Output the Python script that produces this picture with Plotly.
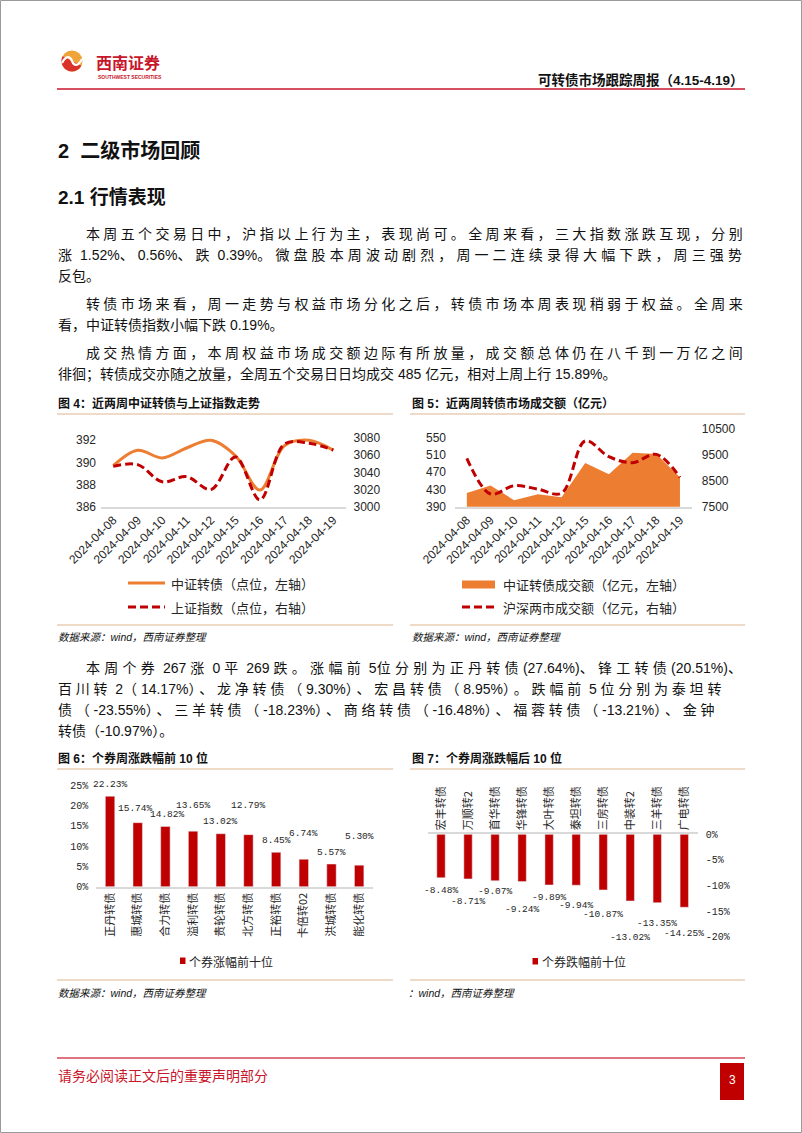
import math
import plotly.graph_objects as go

W, H = 802, 1133


def X(px):
    return px / W


def Y(py):
    return 1 - py / H


# ---------------- data ----------------
dates = ['2024-04-08', '2024-04-09', '2024-04-10', '2024-04-11', '2024-04-12',
         '2024-04-15', '2024-04-16', '2024-04-17', '2024-04-18', '2024-04-19']
cb_index = [389.7, 391.1, 390.4, 391.3, 392.0, 390.6, 387.5, 391.5, 392.0, 391.1]
sse_index = [3047, 3049, 3029, 3035, 3020, 3058, 3008, 3073, 3074, 3066]
cb_turnover = [422, 439, 405, 419, 412, 491, 465, 515, 512, 458]
mkt_turnover = [9370, 7990, 8310, 8180, 8020, 10040, 9430, 9200, 9520, 8630]

up_names = ['正丹转债', '惠城转债', '合力转债', '溢利转债', '贵轮转债',
            '北方转债', '正裕转债', '卡倍转02', '洪城转债', '能化转债']
up_pct = [22.23, 15.74, 14.82, 13.65, 13.02, 12.79, 8.45, 6.74, 5.57, 5.30]
down_names = ['宏丰转债', '万顺转2', '首华转债', '华锋转债', '大叶转债',
              '泰坦转债', '三房转债', '中装转2', '三羊转债', '广电转债']
down_pct = [-8.48, -8.71, -9.07, -9.24, -9.89, -9.94, -10.87, -13.02, -13.35, -14.25]

left4_ticks = [386, 388, 390, 392]
right4_ticks = [3000, 3020, 3040, 3060, 3080]
left5_ticks = [390, 430, 470, 510, 550]
right5_ticks = [7500, 8500, 9500, 10500]
pct6_ticks = [0, 5, 10, 15, 20, 25]
pct7_ticks = [0, -5, -10, -15, -20]

# label placement (styling only)
up_label_shift = [12, 14, 12, 26, 12, 29, 12, 26, 12, 29]
up_label_xshift = [0, -2, 2, 0, 0, 0, 0, 0, 0, 0]
down_label_shift = [-13, -23, -11, -28, -13, -20, -25, -37, -21, -26]

# ---------------- styles ----------------
CJK = "Noto Sans CJK SC"
LAT = "Liberation Sans, Noto Sans CJK SC"
MONO = "Liberation Mono, Noto Sans CJK SC"
RED = "#C00000"
ORANGE = "#ED7D31"
GRID = "#D9D9D9"
TXT = "#262626"
TAN = "#DDB68E"
HRED = "#C8162B"

fig = go.Figure()

# chart 4
fig.add_trace(go.Scatter(x=dates, y=cb_index, mode='lines', name='中证转债（点位，左轴）',
                         line=dict(color=ORANGE, width=3, shape='spline'),
                         xaxis='x', yaxis='y', showlegend=False, hoverinfo='skip'))
fig.add_trace(go.Scatter(x=dates, y=sse_index, mode='lines', name='上证指数（点位，右轴）',
                         line=dict(color=RED, width=3, dash='8px,4px', shape='spline'),
                         xaxis='x', yaxis='y2', showlegend=False, hoverinfo='skip'))
# chart 5
fig.add_trace(go.Scatter(x=dates, y=cb_turnover, mode='lines', name='中证转债成交额（亿元，左轴）',
                         fill='tozeroy', fillcolor=ORANGE, line=dict(color=ORANGE, width=0),
                         xaxis='x2', yaxis='y3', showlegend=False, hoverinfo='skip'))
fig.add_trace(go.Scatter(x=dates, y=mkt_turnover, mode='lines', name='沪深两市成交额（亿元，右轴）',
                         line=dict(color=RED, width=3, dash='8px,4px', shape='spline'),
                         xaxis='x2', yaxis='y4', showlegend=False, hoverinfo='skip'))
# chart 6
fig.add_trace(go.Bar(x=up_names, y=up_pct, marker_color=RED, width=0.34, name='个券涨幅前十位',
                     xaxis='x3', yaxis='y5', showlegend=False, hoverinfo='skip'))
# chart 7
fig.add_trace(go.Bar(x=down_names, y=down_pct, marker_color=RED, width=0.31, name='个券跌幅前十位',
                     xaxis='x4', yaxis='y6', showlegend=False, hoverinfo='skip'))

tickf = dict(family=LAT, size=12, color=TXT)
monof = dict(family=MONO, size=10, color=TXT)
labf = dict(family=MONO, size=9.5, color=TXT)
common_x = dict(type='category', showgrid=False, zeroline=False, ticks='', showline=True,
                linecolor=GRID, linewidth=1.5, fixedrange=True, automargin=False)
common_y = dict(showgrid=False, zeroline=False, ticks='', showline=False, fixedrange=True,
                automargin=False)

fig.update_layout(
    width=W, height=H, margin=dict(l=0, r=0, t=0, b=0), autosize=False,
    paper_bgcolor='white', plot_bgcolor='white', showlegend=False,
    font=dict(family=CJK, color=TXT),
    xaxis=dict(common_x, domain=[X(101), X(345.5)], anchor='y', range=[-0.5, 9.5],
               tickangle=-45, tickfont=tickf),
    yaxis=dict(common_y, domain=[Y(506.7), Y(438)], anchor='x', range=[386, 392.2],
               tickvals=left4_ticks, ticktext=[str(v) for v in left4_ticks],
               tickfont=tickf, ticklabelstandoff=4),
    yaxis2=dict(common_y, overlaying='y', side='right', anchor='x', range=[3000, 3080],
                tickvals=right4_ticks, ticktext=[str(v) for v in right4_ticks],
                tickfont=tickf, ticklabelstandoff=7),
    xaxis2=dict(common_x, domain=[X(455), X(691.8)], anchor='y3', range=[-0.5, 9.5],
                tickangle=-45, tickfont=tickf),
    yaxis3=dict(common_y, domain=[Y(506.7), Y(429)], anchor='x2', range=[390, 570],
                tickvals=left5_ticks, ticktext=[str(v) for v in left5_ticks],
                tickfont=tickf, ticklabelstandoff=8),
    yaxis4=dict(common_y, overlaying='y3', side='right', anchor='x2', range=[7500, 10500],
                tickvals=right5_ticks, ticktext=[str(v) for v in right5_ticks],
                tickfont=tickf, ticklabelstandoff=9),
    xaxis3=dict(common_x, domain=[X(96.2), X(373)], anchor='y5', range=[-0.5, 9.5],
                tickangle=-90, tickfont=dict(family=CJK, size=11, color=TXT)),
    yaxis5=dict(common_y, domain=[Y(886.7), Y(785)], anchor='x3', range=[0, 25],
                tickvals=pct6_ticks, ticktext=[f"{v}%" for v in pct6_ticks],
                tickfont=monof, ticklabelstandoff=7),
    xaxis4=dict(common_x, domain=[X(427.5), X(697.8)], anchor='y6', range=[-0.5, 9.5],
                side='top', tickangle=-90, tickfont=dict(family=CJK, size=11, color=TXT)),
    yaxis6=dict(common_y, domain=[Y(936.7), Y(834.3)], anchor='x4', range=[-20, 0], side='right',
                tickvals=pct7_ticks, ticktext=[f"{v}%" for v in pct7_ticks],
                tickfont=monof, ticklabelstandoff=7),
)

# bar value labels
for n, v, s, xs in zip(up_names, up_pct, up_label_shift, up_label_xshift):
    fig.add_annotation(x=n, y=v, xref='x3', yref='y5', text=f"{v:.2f}%", showarrow=False,
                       yshift=s, xshift=xs, font=labf, xanchor='center', yanchor='middle',
                       borderpad=0)
for n, v, s in zip(down_names, down_pct, down_label_shift):
    fig.add_annotation(x=n, y=v, xref='x4', yref='y6', text=f"{v:.2f}%", showarrow=False,
                       yshift=s, font=labf, xanchor='center', yanchor='middle', borderpad=0)

shapes = []


def hline(x0, x1, y, color, width=1, dash=None):
    shapes.append(dict(type='line', xref='paper', yref='paper', x0=X(x0), x1=X(x1),
                       y0=Y(y), y1=Y(y), line=dict(color=color, width=width, dash=dash)))


def rect(x0, y0, x1, y1, fill):
    shapes.append(dict(type='rect', xref='paper', yref='paper', x0=X(x0), x1=X(x1),
                       y0=Y(y1), y1=Y(y0), fillcolor=fill, line=dict(color=fill, width=0)))


def txt(x, y, s, size=14, color='#111111', anchor='left', family=LAT, weight='normal',
        style='normal'):
    fig.add_annotation(x=X(x), y=Y(y), xref='paper', yref='paper', text=s, showarrow=False,
                       xanchor=anchor, yanchor='middle', borderpad=0,
                       font=dict(size=size, color=color, family=family, weight=weight,
                                 style=style))


def is_cjk(ch):
    return ch >= '\u2e80' or ch in '（），。、；：'


def em(ch):
    if is_cjk(ch):
        return 1.0
    return {'.': 0.278, ' ': 0.278, '%': 0.889, '(': 0.333, ')': 0.333, '-': 0.333}.get(ch, 0.556)


def justified(s, fs, width):
    """Distribute extra space over the CJK characters only (like Word's justify)."""
    nat = sum(em(c) for c in s) * fs
    n_cjk = sum(1 for c in s if is_cjk(c))
    ls = (width - nat) / max(n_cjk, 1)
    runs, cur, cur_type = [], '', None
    for c in s:
        t = is_cjk(c)
        if cur and t != cur_type:
            runs.append((cur_type, cur))
            cur = ''
        cur += c
        cur_type = t
    if cur:
        runs.append((cur_type, cur))
    out = ''
    for t, r in runs:
        if t:
            out += f'<span style="letter-spacing:{ls:.2f}px">{r}</span>'
        else:
            out += f'<span style="letter-spacing:0px">{r}</span>'
    return out


# page border
shapes.append(dict(type='rect', xref='paper', yref='paper', x0=X(0.5), x1=X(801.5),
                   y0=Y(1132.5), y1=Y(0.5), line=dict(color='#9A9A9A', width=1)))

# ---- header ----
shapes.append(dict(type='circle', xref='paper', yref='paper', x0=X(61.5), x1=X(82.5),
                   y0=Y(71.5), y1=Y(50.5), fillcolor='#EFA43A', line=dict(width=0)))
pts = []
for i in range(0, 31):
    a = math.pi * (i / 30.0) + math.pi * 0.15
    pts.append((72 + 10.5 * math.cos(a), 61 + 10.5 * math.sin(a)))
path = 'M ' + ' L '.join(f'{X(px):.5f},{Y(py):.5f}' for px, py in pts) + ' Z'
shapes.append(dict(type='path', xref='paper', yref='paper', path=path,
                   fillcolor='#D8322A', line=dict(width=0)))
spath = (f'M {X(62):.5f},{Y(63):.5f} C {X(66):.5f},{Y(55):.5f} {X(70):.5f},{Y(56):.5f} '
         f'{X(72):.5f},{Y(61):.5f} C {X(74):.5f},{Y(66):.5f} {X(78):.5f},{Y(67):.5f} '
         f'{X(82):.5f},{Y(59):.5f}')
shapes.append(dict(type='path', xref='paper', yref='paper', path=spath,
                   line=dict(color='white', width=2.2)))
txt(95, 62, '西南证券', size=16, color=HRED, family=CJK, weight='bold')
txt(97, 77, 'SOUTHWEST SECURITIES', size=5, color=HRED, family=LAT, weight='bold')
txt(745, 80, '可转债市场跟踪周报（4.15-4.19）', size=13.5, color='#111111', anchor='right',
    family=LAT, weight='bold')
hline(57, 745, 89, HRED, 1.5)

# ---- headings and body ----
txt(57, 151, '2  二级市场回顾', size=20, family=LAT, weight='bold')
txt(57, 197, '2.1 行情表现', size=19, family=LAT, weight='bold')

FS = 14
body = [
    (85, 234, '本周五个交易日中，沪指以上行为主，表现尚可。全周来看，三大指数涨跌互现，分别', True),
    (57, 255, '涨 1.52%、0.56%、跌 0.39%。微盘股本周波动剧烈，周一二连续录得大幅下跌，周三强势', True),
    (57, 276, '反包。', False),
    (85, 304, '转债市场来看，周一走势与权益市场分化之后，转债市场本周表现稍弱于权益。全周来', True),
    (57, 325, '看，中证转债指数小幅下跌 0.19%。', False),
    (85, 353, '成交热情方面，本周权益市场成交额边际有所放量，成交额总体仍在八千到一万亿之间', True),
    (57, 374, '徘徊；转债成交亦随之放量，全周五个交易日日均成交 485 亿元，相对上周上行 15.89%。', False),
    (85, 668, '本周个券 267 涨 0 平 269 跌。涨幅前 5位分别为正丹转债(27.64%)、锋工转债(20.51%)、', True),
    (57, 689, '百川转 2（14.17%）、龙净转债（9.30%）、宏昌转债（8.95%）。跌幅前 5 位分别为泰坦转', True),
    (57, 710, '债（-23.55%）、三羊转债（-18.23%）、商络转债（-16.48%）、福蓉转债（-13.21%）、金钟', True),
    (57, 731, '转债（-10.97%）。', False),
]
for x0, y0, s, just in body:
    t = justified(s, FS, 745 - x0) if just else s
    txt(x0, y0, t, size=FS)

# ---- figure titles, rules, sources ----
txt(57, 403, '图 4：近两周中证转债与上证指数走势', size=12, family=LAT, weight='bold')
txt(411, 403, '图 5：近两周转债市场成交额（亿元）', size=12, family=LAT, weight='bold')
txt(57, 758, '图 6：个券周涨跌幅前 10 位', size=12, family=LAT, weight='bold')
txt(411, 758, '图 7：个券周涨跌幅后 10 位', size=12, family=LAT, weight='bold')
for y in (414, 625, 769, 980):
    hline(57, 393, y, TAN, 1)
    hline(410, 745, y, TAN, 1)
txt(57, 637, '数据来源：wind，西南证券整理', size=10.5, family=LAT, style='italic')
txt(411, 637, '数据来源：wind，西南证券整理', size=10.5, family=LAT, style='italic')
txt(57, 993, '数据来源：wind，西南证券整理', size=10.5, family=LAT, style='italic')
txt(407, 993, '：wind，西南证券整理', size=10.5, family=LAT, style='italic')

# ---- custom legends ----
hline(128, 165, 583, ORANGE, 3)
txt(170, 583, '中证转债（点位，左轴）', size=13, family=CJK, color=TXT)
hline(128, 165, 607, RED, 3, dash='8px,4px')
txt(170, 607, '上证指数（点位，右轴）', size=13, family=CJK, color=TXT)

rect(462, 580.5, 495, 588.5, ORANGE)
txt(502, 584, '中证转债成交额（亿元，左轴）', size=13, family=CJK, color=TXT)
hline(462, 495, 607, RED, 3, dash='8px,4px')
txt(502, 607, '沪深两市成交额（亿元，右轴）', size=13, family=CJK, color=TXT)

rect(180, 957.5, 185.5, 964, RED)
txt(188, 961, '个券涨幅前十位', size=12, family=CJK, color=TXT)
rect(532.5, 958, 538, 964.5, RED)
txt(541, 961, '个券跌幅前十位', size=12, family=CJK, color=TXT)

# ---- footer ----
hline(57, 745, 1058, '#D4465A', 1.3)
txt(57, 1075, '请务必阅读正文后的重要声明部分', size=14, color=HRED, family=CJK)
rect(720, 1063, 744, 1100, RED)
txt(732, 1080, '3', size=12, color='white', anchor='center', family=LAT)

fig.update_layout(shapes=shapes)
fig.write_html("out.html", config={'displayModeBar': False})
